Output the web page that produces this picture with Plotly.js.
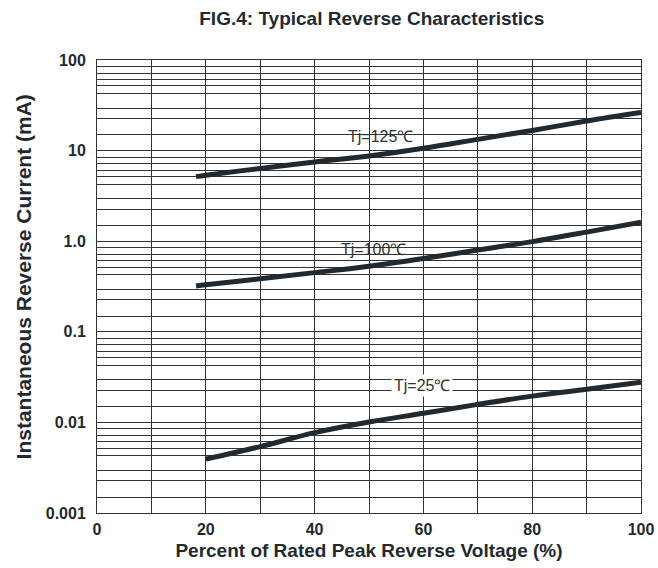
<!DOCTYPE html>
<html>
<head>
<meta charset="utf-8">
<script src="https://cdn.plot.ly/plotly-3.0.1.min.js"></script>
<style>html,body{margin:0;padding:0;background:#fff;}#chart{width:658px;height:568px;}</style>
</head>
<body>
<div id="chart"></div>
<script>
// Data
const voltagePct125 = [18.2, 20, 30, 40, 50, 60, 70, 80, 90, 100];
const current125   = [5.16, 5.35, 6.35, 7.5, 8.7, 10.6, 13.3, 16.7, 21.2, 26.3];
const voltagePct100 = [18.2, 20, 30, 40, 50, 60, 70, 80, 90, 100];
const current100   = [0.32, 0.33, 0.385, 0.45, 0.53, 0.645, 0.80, 0.99, 1.26, 1.62];
const voltagePct25 = [20, 30, 40, 50, 60, 70, 80, 90, 100];
const current25    = [0.00393, 0.0054, 0.0077, 0.0101, 0.0126, 0.0158, 0.0195, 0.0232, 0.0277];
const seriesLabels = ['Tj=125\u2103', 'Tj=100\u2103', 'Tj=25\u2103'];
const xTickVals = [0, 10, 20, 30, 40, 50, 60, 70, 80, 90, 100];
const xTickText = ['0', '', '20', '', '40', '', '60', '', '80', '', '100'];
const yDecadeExp = [-3, -2, -1, 0, 1, 2];
const yDecadeLabels = ['0.001', '0.01', '0.1', '1.0', '10', '100'];
// position (fraction of a decade) of the printed minor grid rules 2..9 on the original chart paper
const minorGridFrac = [0.173, 0.355, 0.47, 0.63, 0.715, 0.785, 0.855, 0.928];

// build grid tick values
const yTickVals = [], yTickText = [];
for (let d = 0; d < yDecadeExp.length; d++) {
  yTickVals.push(Math.pow(10, yDecadeExp[d])); yTickText.push(yDecadeLabels[d]);
  if (d < yDecadeExp.length - 1) {
    minorGridFrac.forEach(f => { yTickVals.push(Math.pow(10, yDecadeExp[d] + f)); yTickText.push(''); });
  }
}

const lineStyle = {color: '#222a30', width: 5, shape: 'spline', smoothing: 1};
const traces = [
  {x: voltagePct125, y: current125, mode: 'lines', line: lineStyle, name: seriesLabels[0]},
  {x: voltagePct100, y: current100, mode: 'lines', line: lineStyle, name: seriesLabels[1]},
  {x: voltagePct25, y: current25, mode: 'lines', line: lineStyle, name: seriesLabels[2]}
];

const fontFam = 'Liberation Sans, Arial, sans-serif';
const layout = {
  width: 658, height: 568,
  margin: {l: 97, r: 17, t: 60, b: 55},
  paper_bgcolor: '#fff', plot_bgcolor: '#fff',
  showlegend: false,
  title: {text: '<b>FIG.4: Typical Reverse Characteristics</b>', x: 0.565, xanchor: 'center', y: 0.968, yanchor: 'middle',
          font: {family: fontFam, size: 19, color: '#222a30'}},
  xaxis: {
    type: 'linear', range: [0, 100], tickvals: xTickVals, ticktext: xTickText,
    showgrid: true, gridcolor: '#333', gridwidth: 1, zeroline: false,
    showline: true, linecolor: '#333', linewidth: 1, mirror: true, ticks: '',
    tickfont: {family: fontFam, size: 16, color: '#222a30', weight: 'bold'},
    ticklabelstandoff: 2,
    title: {text: '<b>Percent of Rated Peak Reverse Voltage (%)</b>', standoff: 6,
            font: {family: fontFam, size: 19, color: '#222a30'}}
  },
  yaxis: {
    type: 'log', range: [-3, 2], tickvals: yTickVals, ticktext: yTickText,
    showgrid: true, gridcolor: '#333', gridwidth: 1, zeroline: false,
    showline: true, linecolor: '#333', linewidth: 1, mirror: true, ticks: '',
    tickfont: {family: fontFam, size: 16, color: '#222a30', weight: 'bold'},
    ticklabelstandoff: 7
  },
  annotations: [
    {xref: 'paper', yref: 'paper', x: -0.136, y: 0.52, xanchor: 'center', yanchor: 'middle', textangle: -90,
     text: '<b>Instantaneous Reverse Current (mA)</b>', showarrow: false,
     font: {family: fontFam, size: 21, color: '#222a30'}},
    {x: 52.2, y: Math.log10(14.2), xref: 'x', yref: 'y', text: seriesLabels[0], showarrow: false,
     font: {family: fontFam, size: 16, color: '#333'}},
    {x: 50.8, y: Math.log10(0.80), xref: 'x', yref: 'y', text: seriesLabels[1], showarrow: false,
     font: {family: fontFam, size: 16, color: '#333'}},
    {x: 59.8, y: Math.log10(0.0258), xref: 'x', yref: 'y', text: seriesLabels[2], showarrow: false,
     bgcolor: '#fff', borderpad: 2, font: {family: fontFam, size: 16, color: '#333'}}
  ]
};

Plotly.newPlot('chart', traces, layout, {staticPlot: true, displayModeBar: false});
</script>
</body>
</html>
